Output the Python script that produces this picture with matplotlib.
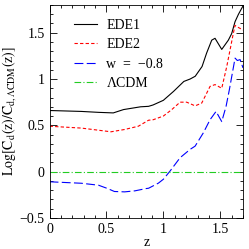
import numpy as np
import matplotlib
matplotlib.use("Agg")
import matplotlib.pyplot as plt
from matplotlib.ticker import MultipleLocator

plt.rcParams['font.family'] = ['Liberation Serif', 'DejaVu Serif']
plt.rcParams['mathtext.fontset'] = 'stix'

# values
z_ede1 = [0, 0.28, 0.43, 0.56, 0.65, 0.75, 0.80, 0.87, 0.91, 1.0, 1.09, 1.18, 1.235, 1.28,
          1.34, 1.38, 1.425, 1.454, 1.513, 1.571, 1.60, 1.63, 1.66, 1.70]
ede1 = [0.66, 0.65, 0.64, 0.634, 0.67, 0.69, 0.70, 0.705, 0.72, 0.77, 0.867, 0.974, 1.0, 1.03,
        1.135, 1.28, 1.42, 1.44, 1.32, 1.42, 1.49, 1.62, 1.70, 1.79]

z_ede2 = [0, 0.28, 0.43, 0.54, 0.66, 0.78, 0.87, 0.91, 1.0, 1.074, 1.147, 1.205, 1.279, 1.337,
          1.396, 1.41, 1.454, 1.513, 1.557, 1.615, 1.63, 1.645, 1.70]
ede2 = [0.49, 0.47, 0.447, 0.43, 0.455, 0.49, 0.555, 0.56, 0.60, 0.67, 0.75, 0.75, 0.71, 0.74,
        0.885, 0.92, 0.94, 0.90, 1.135, 1.495, 1.58, 1.566, 1.53]

z_w08 = [0, 0.28, 0.43, 0.51, 0.57, 0.66, 0.75, 0.85, 0.87, 0.956, 1.0, 1.059, 1.147, 1.235,
         1.279, 1.352, 1.41, 1.463, 1.513, 1.551, 1.58, 1.63, 1.65, 1.674, 1.70]
w08 = [-0.11, -0.126, -0.147, -0.183, -0.215, -0.219, -0.208, -0.183, -0.18, -0.125, -0.083,
       0.006, 0.15, 0.24, 0.275, 0.42, 0.56, 0.65, 0.54, 0.705, 0.885, 1.226, 1.20, 1.21, 1.12]

z_lcdm = [0, 1.7]
lcdm = [0, 0]

fig = plt.figure(figsize=(2.49, 2.49), dpi=100)
ax = fig.add_axes([0.199, 0.125, 0.777, 0.855])

ax.plot(z_ede1, ede1, color='black', lw=0.8, label='EDE1')
ax.plot(z_ede2, ede2, color='red', lw=0.8, ls=(0, (3, 2)), label='EDE2')
ax.plot(z_w08, w08, color='blue', lw=0.8, ls=(0, (8, 3)), label='w  =  \u22120.8')
ax.plot(z_lcdm, lcdm, color='#22cc22', lw=0.8, ls=(0, (6, 2, 1, 2)), label='\u039bCDM')

ax.set_xlim(0, 1.7)
ax.set_ylim(-0.5, 1.8)
ax.xaxis.set_minor_locator(MultipleLocator(0.1))
ax.yaxis.set_minor_locator(MultipleLocator(0.1))
ax.set_xticks([0, 0.5, 1, 1.5])
ax.set_xticklabels(['0', '0.5', '1', '1.5'])
ax.set_yticks([-0.5, 0, 0.5, 1, 1.5])
ax.set_yticklabels(['\u22120.5', '0', '0.5', '1', '1.5'])
ax.tick_params(which='both', direction='in', top=True, right=True, labelsize=10, width=0.6)
ax.tick_params(which='major', length=5)
ax.tick_params(which='minor', length=2.5)
for s in ax.spines.values():
    s.set_linewidth(0.6)

ax.set_xlabel('z', fontsize=10, labelpad=0)
ax.set_ylabel(r'$\mathrm{Log[C_d(z)/C_{d,\Lambda CDM}(z)]}$', fontsize=10, labelpad=1)

ax.legend(loc='upper left', frameon=False, fontsize=10, handlelength=1.65,
          handletextpad=0.65, labelspacing=0.45, borderaxespad=0,
          bbox_to_anchor=(0.1, 0.96))

fig.savefig('out.png', dpi=100)
